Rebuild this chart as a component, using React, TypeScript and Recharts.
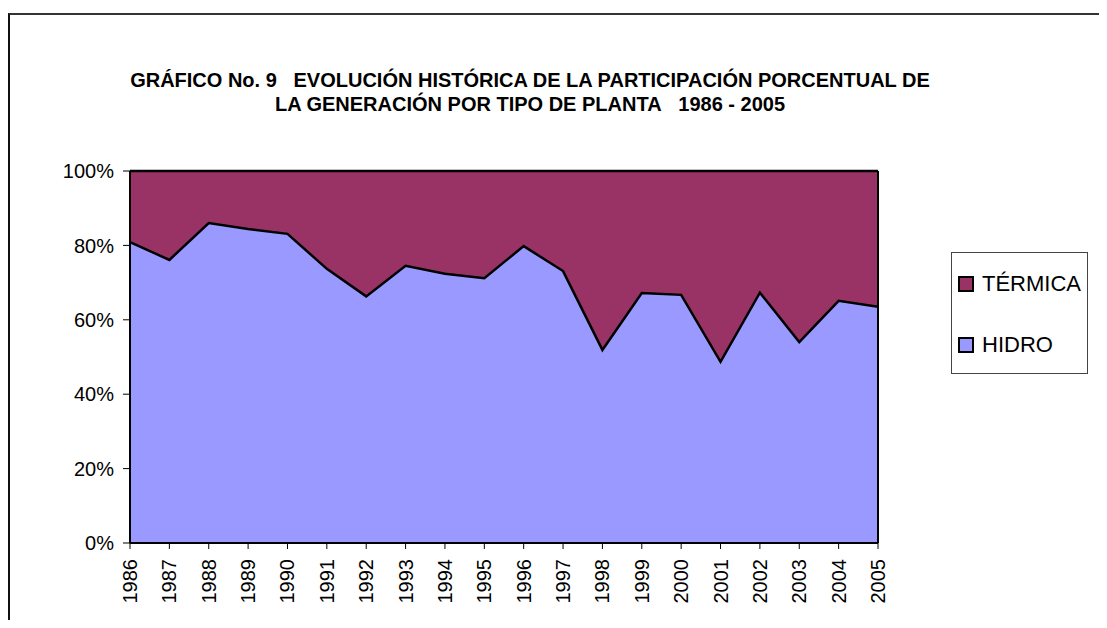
import { FC } from "react";
import { ComposedChart, Area, Line, XAxis, YAxis, ReferenceLine } from "recharts";

// años del eje X
const years = [
    "1986", "1987", "1988", "1989", "1990", "1991", "1992", "1993", "1994", "1995",
    "1996", "1997", "1998", "1999", "2000", "2001", "2002", "2003", "2004", "2005",
];

// participación porcentual por tipo de planta
const hidro = [80.9, 76.1, 86.0, 84.4, 83.1, 73.7, 66.3, 74.5, 72.4, 71.2, 79.8, 73.1, 51.9, 67.2, 66.7, 48.7, 67.3, 54.0, 65.1, 63.5];
const termica = [19.1, 23.9, 14.0, 15.6, 16.9, 26.3, 33.7, 25.5, 27.6, 28.8, 20.2, 26.9, 48.1, 32.8, 33.3, 51.3, 32.7, 46.0, 34.9, 36.5];

const yTicks = [0, 20, 40, 60, 80, 100];

const data = years.map((year, i) => ({ year, hidro: hidro[i], termica: termica[i] }));

const FONT = "'Liberation Sans', Arial, sans-serif";

const YearTick = (props: any) => {
    const { x, y, payload } = props;
    return (
        <text
            transform={`translate(${x},${y}) rotate(-90)`}
            textAnchor="end"
            dominantBaseline="central"
            fontSize={20}
            fontFamily={FONT}
            fill="#000"
        >
            {payload.value}
        </text>
    );
};

// leyenda dibujada aparte (a la derecha del área de trazado)
const LegendBox = () => {
    const items = [
        { name: "TÉRMICA", color: "#993366" },
        { name: "HIDRO", color: "#9999FF" },
    ];
    return (
        <div style={{ position: "absolute", left: 943, top: 244, width: 135, height: 120, border: "1px solid #444", fontFamily: FONT, background: "#fff" }}>
            {items.map((it, i) => (
                <div key={it.name} style={{ position: "absolute", left: 6, top: 19 + i * 61, display: "flex", alignItems: "center", height: 24 }}>
                    <span style={{ width: 12, height: 12, background: it.color, border: "2px solid #000", display: "inline-block" }} />
                    <span style={{ marginLeft: 8, fontSize: 22, color: "#000" }}>{it.name}</span>
                </div>
            ))}
        </div>
    );
};

const App: FC = () => {
    return (
        <div style={{ position: "relative", width: 1091, height: 612, overflow: "hidden", fontFamily: FONT }}>
            <div style={{ position: "absolute", left: 0, top: 5, width: 1200, height: 700, borderTop: "2px solid #333", borderLeft: "2px solid #111" }} />
            <div style={{ position: "absolute", left: 0, top: 60, width: 1044, textAlign: "center", fontSize: 20, fontWeight: "bold", lineHeight: "24px" }}>
                GRÁFICO No. 9&nbsp;&nbsp;&nbsp;EVOLUCIÓN HISTÓRICA DE LA PARTICIPACIÓN PORCENTUAL DE
                <br />
                LA GENERACIÓN POR TIPO DE PLANTA&nbsp;&nbsp;&nbsp;1986 - 2005
            </div>
            <div style={{ position: "absolute", left: 0, top: 0 }}>
                <ComposedChart width={1091} height={612} data={data} margin={{ top: 163, right: 221, bottom: 7, left: 52 }}>
                    <XAxis
                        dataKey="year"
                        interval={0}
                        height={70}
                        tick={<YearTick />}
                        tickSize={6}
                        tickMargin={10}
                        axisLine={{ stroke: "#000", strokeWidth: 2 }}
                        tickLine={{ stroke: "#000" }}
                    />
                    <YAxis
                        domain={[0, 100]}
                        ticks={yTicks}
                        width={70}
                        tickFormatter={(v) => `${v}%`}
                        tick={{ fill: "#000", fontSize: 20, fontFamily: FONT }}
                        tickSize={7}
                        tickMargin={9}
                        axisLine={{ stroke: "#000", strokeWidth: 2 }}
                        tickLine={{ stroke: "#000" }}
                    />
                    <Area type="linear" dataKey="hidro" name="HIDRO" stackId="1" stroke="none" fill="#9999FF" fillOpacity={1} isAnimationActive={false} />
                    <Area type="linear" dataKey="termica" name="TÉRMICA" stackId="1" stroke="#000" strokeWidth={2.5} fill="#993366" fillOpacity={1} isAnimationActive={false} />
                    <Line type="linear" dataKey="hidro" stroke="#000" strokeWidth={2.5} dot={false} activeDot={false} legendType="none" isAnimationActive={false} />
                    <ReferenceLine x="2005" stroke="#000" strokeWidth={2} />
                </ComposedChart>
            </div>
            <LegendBox />
        </div>
    );
};

export default App;
